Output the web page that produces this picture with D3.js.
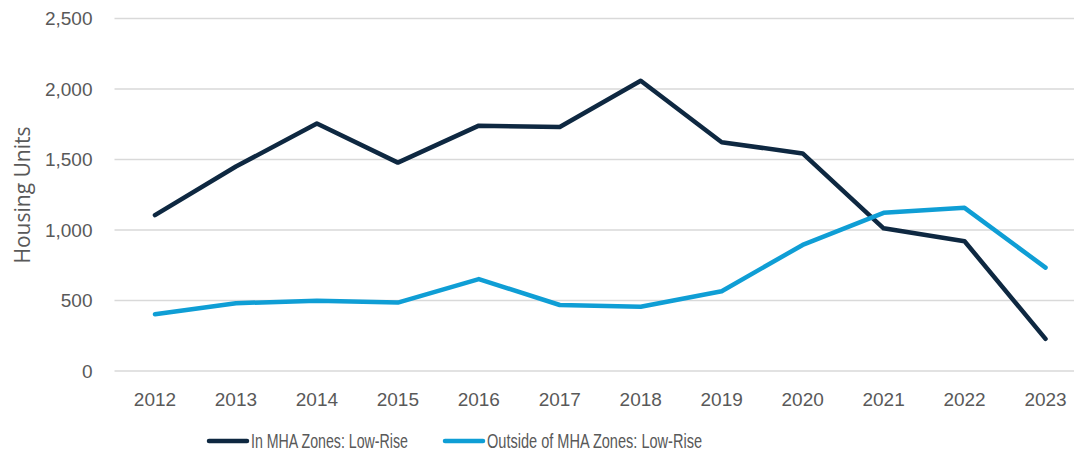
<!DOCTYPE html>
<html>
<head>
<meta charset="utf-8">
<script src="https://cdn.jsdelivr.net/npm/d3@7"></script>
<style>
  body { margin: 0; background: #fff; }
  svg text { font-family: "Liberation Sans", Arial, sans-serif; fill: #595959; }
</style>
</head>
<body>
<div id="chart"></div>
<script>
// Housing units by year, low-rise, in / outside MHA zones
var years = ["2012", "2013", "2014", "2015", "2016", "2017", "2018", "2019", "2020", "2021", "2022", "2023"];
var inMha = [1105, 1450, 1755, 1478, 1740, 1730, 2058, 1622, 1543, 1012, 920, 228];
var outsideMha = [402, 481, 498, 485, 652, 468, 456, 566, 894, 1122, 1157, 733];
var yTicks = [0, 500, 1000, 1500, 2000, 2500];
var seriesNames = ["In MHA Zones: Low-Rise", "Outside of MHA Zones: Low-Rise"];
var seriesColors = ["#0e2841", "#0f9ed5"];

var width = 1074, height = 455;
var margin = {top: 18.5, right: -12, bottom: 84, left: 114.5};
var innerW = width - margin.left - margin.right,
    innerH = height - margin.top - margin.bottom;

var svg = d3.select("#chart")
  .append("svg")
    .attr("width", width)
    .attr("height", height);

var g = svg.append("g")
    .attr("transform", "translate(" + margin.left + "," + margin.top + ")");

var x = d3.scaleBand()
    .domain(years)
    .range([0, innerW]);

var y = d3.scaleLinear()
    .domain([0, 2500])
    .range([innerH, 0]);

// gridlines
g.selectAll(".grid")
  .data(yTicks)
  .enter()
  .append("line")
    .attr("x1", 0)
    .attr("x2", innerW)
    .attr("y1", function(d) { return y(d); })
    .attr("y2", function(d) { return y(d); })
    .style("stroke", "#d9d9d9")
    .style("stroke-width", 1.5);

// y axis labels
var yAxis = g.append("g")
  .call(d3.axisLeft(y).tickValues(yTicks).tickFormat(d3.format(",")).tickSize(0).tickPadding(22));
yAxis.select(".domain").remove();
yAxis.selectAll("text")
  .style("font-size", "19px")
  .style("fill", "#595959");

// x axis labels
var xAxis = g.append("g")
  .attr("transform", "translate(0," + innerH + ")")
  .call(d3.axisBottom(x).tickSize(0).tickPadding(22));
xAxis.select(".domain").remove();
xAxis.selectAll("text")
  .style("font-size", "19px")
  .style("fill", "#595959");

// axis title
svg.append("text")
  .attr("transform", "translate(30,195) rotate(-90)")
  .style("text-anchor", "middle")
  .style("font-family", "'Open Sans', sans-serif")
  .style("font-size", "21px")
  .text("Housing Units");

// lines
var line = d3.line()
  .x(function(d, i) { return x(years[i]) + x.bandwidth() / 2; })
  .y(function(d) { return y(d); });

[inMha, outsideMha].forEach(function(vals, i) {
  g.append("path")
    .datum(vals)
    .attr("d", line)
    .style("fill", "none")
    .style("stroke", seriesColors[i])
    .style("stroke-width", 4.5)
    .style("stroke-linecap", "round")
    .style("stroke-linejoin", "round");
});

// legend (reference font is condensed, so squeeze the text)
var legendX = [209, 445];
var legendTextW = [157, 215];
var legend = svg.selectAll(".legend")
  .data(seriesNames)
  .enter()
  .append("g")
    .attr("transform", function(d, i) { return "translate(" + legendX[i] + ",441)"; });

legend.append("line")
  .attr("x1", 0)
  .attr("x2", 38)
  .style("stroke", function(d, i) { return seriesColors[i]; })
  .style("stroke-width", 4.5)
  .style("stroke-linecap", "round");

legend.append("text")
  .attr("x", 42)
  .attr("dy", "0.35em")
  .attr("textLength", function(d, i) { return legendTextW[i]; })
  .attr("lengthAdjust", "spacingAndGlyphs")
  .style("font-size", "20px")
  .text(function(d) { return d; });
</script>
</body>
</html>
